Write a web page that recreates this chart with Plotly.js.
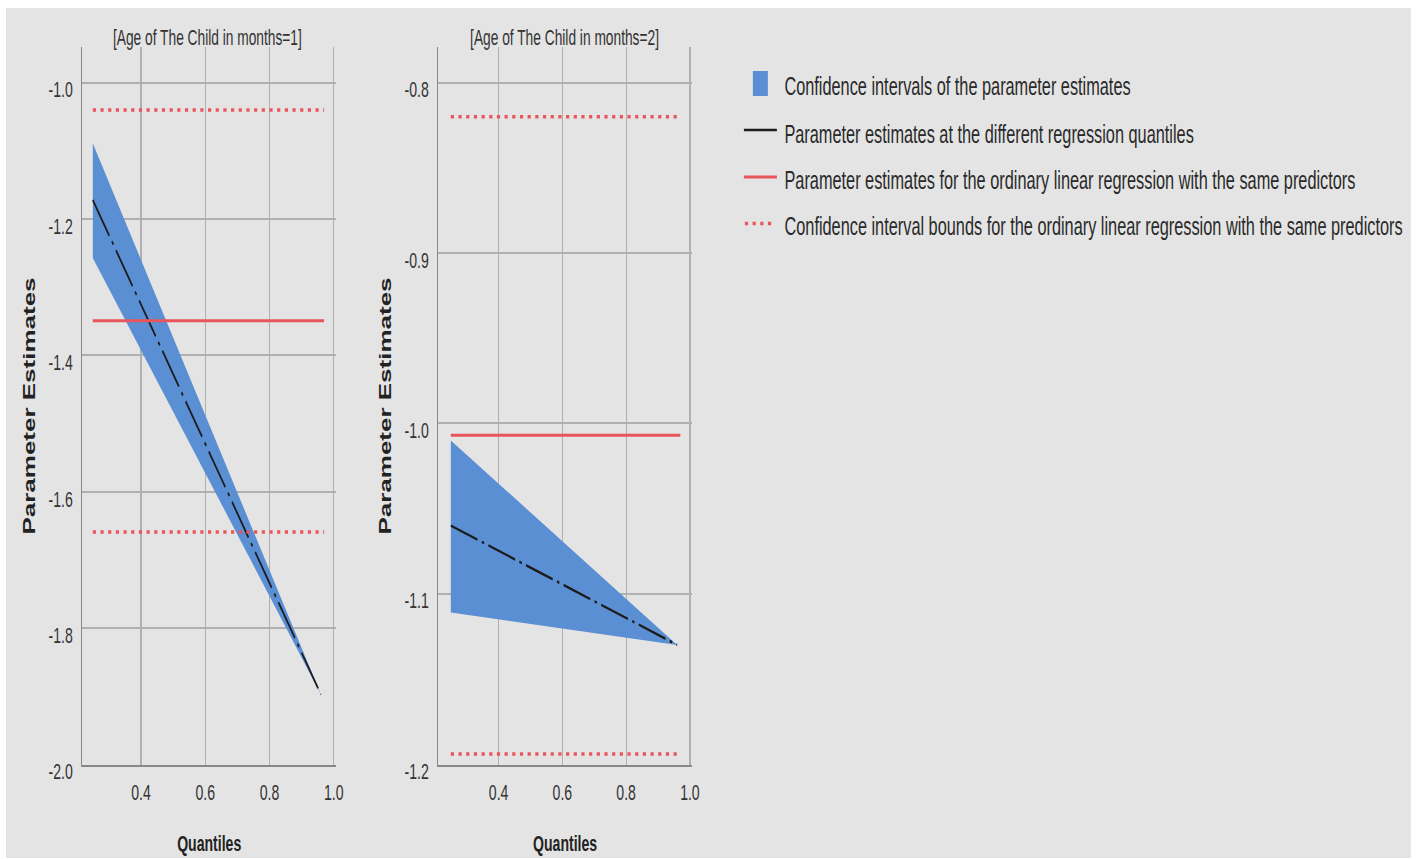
<!DOCTYPE html>
<html><head><meta charset="utf-8">
<script src="https://cdn.plot.ly/plotly-3.0.1.min.js"></script>
<style>
html,body{margin:0;padding:0;background:#fff;overflow:hidden;width:1417px;height:859px;}
#wrap{position:absolute;left:6px;top:8px;width:1405px;height:850px;overflow:hidden;}
#chart{width:2195px;height:850px;transform:scaleX(0.64);transform-origin:0 0;}
</style></head><body><div id="wrap"><div id="chart"></div></div>
<script>
// ---- data ----
const panelTitles = ['[Age of The Child in months=1]', '[Age of The Child in months=2]'];
const quantiles = [0.25, 0.96];
const estM1 = [-1.172, -1.897];
const upperM1 = [-1.089, -1.897];
const lowerM1 = [-1.257, -1.897];
const olsM1 = [-1.349, -1.349];
const olsUpperM1 = [-1.040, -1.040];
const olsLowerM1 = [-1.659, -1.659];
const estM2 = [-1.060, -1.130];
const upperM2 = [-1.010, -1.130];
const lowerM2 = [-1.111, -1.130];
const olsM2 = [-1.007, -1.007];
const olsUpperM2 = [-0.820, -0.820];
const olsLowerM2 = [-1.194, -1.194];
const olsSpan = [0.25, 0.97];
const xTickVals = [0.4, 0.6, 0.8, 1.0];
const xTickText = ['0.4', '0.6', '0.8', '1.0'];
const yTickValsM1 = [-2.0, -1.8, -1.6, -1.4, -1.2, -1.0];
const yTickTextM1 = ['-2.0', '-1.8', '-1.6', '-1.4', '-1.2', '-1.0'];
const yTickValsM2 = [-1.2, -1.1, -1.0, -0.9, -0.8];
const yTickTextM2 = ['-1.2', '-1.1', '-1.0', '-0.9', '-0.8'];
const xTitle = 'Quantiles';
const yTitle = 'Parameter Estimates';
const legendLabels = [
  'Confidence intervals of the parameter estimates',
  'Parameter estimates at the different regression quantiles',
  'Parameter estimates for the ordinary linear regression with the same predictors',
  'Confidence interval bounds for the ordinary linear regression with the same predictors'
];

// ---- styles ----
const F = '"Liberation Sans", Arial, sans-serif';
const BLUE = '#5b8fd4', RED = '#e8565b', BLACK = '#1c1c1c';
const DASHDOT = '44px,7px,4px,7px';
const DOT = '5px,7px';

function panelTraces(xa, ya, upper, lower, est, ols, olsU, olsL) {
  const bandX = quantiles.concat(quantiles.slice().reverse());
  const bandY = upper.concat(lower.slice().reverse());
  return [
    {x: bandX, y: bandY, xaxis: xa, yaxis: ya, type: 'scatter', mode: 'lines', fill: 'toself',
     fillcolor: BLUE, line: {width: 0, color: BLUE}, hoverinfo: 'skip', name: legendLabels[0]},
    {x: quantiles, y: est, xaxis: xa, yaxis: ya, type: 'scatter', mode: 'lines',
     line: {color: BLACK, width: 2.5, dash: DASHDOT}, name: legendLabels[1]},
    {x: olsSpan, y: ols, xaxis: xa, yaxis: ya, type: 'scatter', mode: 'lines',
     line: {color: RED, width: 3}, name: legendLabels[2]},
    {x: olsSpan, y: olsU, xaxis: xa, yaxis: ya, type: 'scatter', mode: 'lines',
     line: {color: RED, width: 3.5, dash: DOT}, name: legendLabels[3]},
    {x: olsSpan, y: olsL, xaxis: xa, yaxis: ya, type: 'scatter', mode: 'lines',
     line: {color: RED, width: 3.5, dash: DOT}, name: legendLabels[3]}
  ];
}

const traces = [].concat(
  panelTraces('x', 'y', upperM1, lowerM1, estM1, olsM1, olsUpperM1, olsLowerM1),
  panelTraces('x2', 'y2', upperM2, lowerM2, estM2, olsM2, olsUpperM2, olsLowerM2)
);

const axisCommon = {
  showline: true, linecolor: '#888888', linewidth: 2,
  showgrid: true, gridcolor: '#b0b0b0', gridwidth: 2,
  zeroline: false, ticks: '', fixedrange: true,
  tickfont: {family: F, size: 22, color: '#333'}
};
const yDomain = [0.10941, 0.95412];
function xAxis(domain, range, anchor) {
  return Object.assign({}, axisCommon, {
    domain: domain, range: range, anchor: anchor,
    tickmode: 'array', tickvals: xTickVals, ticktext: xTickText,
    ticklabelstandoff: 7,
    title: {text: xTitle, font: {family: F, size: 22, weight: 700, color: '#222'}, standoff: 31}
  });
}
function yAxis(range, vals, text, anchor) {
  return Object.assign({}, axisCommon, {
    domain: yDomain, range: range, anchor: anchor,
    tickmode: 'array', tickvals: vals, ticktext: text,
    ticklabelstandoff: 8, ticklabelshift: 7,
    title: {text: yTitle, font: {family: F, size: 26, weight: 700, color: '#222'}, standoff: 13}
  });
}

// legend drawn with shapes + annotations
const px = v => (v - 6) / 1405;
const py = v => 1 - (v - 8) / 850;
const legendRowsY = [86, 134, 180, 226];
const shapes = [
  {type: 'rect', xref: 'paper', yref: 'paper', x0: px(753), x1: px(768), y0: py(96), y1: py(71),
   fillcolor: BLUE, line: {width: 0}},
  {type: 'line', xref: 'paper', yref: 'paper', x0: px(744), x1: px(777), y0: py(130), y1: py(130),
   line: {color: BLACK, width: 2.5}},
  {type: 'line', xref: 'paper', yref: 'paper', x0: px(744), x1: px(777), y0: py(177), y1: py(177),
   line: {color: RED, width: 3}},
  {type: 'line', xref: 'paper', yref: 'paper', x0: px(745), x1: px(775), y0: py(223.5), y1: py(223.5),
   line: {color: RED, width: 3.5, dash: DOT}}
];
const annotations = [];
legendLabels.forEach((t, i) => annotations.push({
  xref: 'paper', yref: 'paper', x: px(783), y: py(legendRowsY[i]), xanchor: 'left', yanchor: 'middle',
  text: t, showarrow: false, font: {family: F, size: 25.5, color: '#2a2a2a'}
}));
annotations.push({xref: 'paper', yref: 'paper', x: px(207.5), y: py(38), xanchor: 'center', yanchor: 'middle',
  text: panelTitles[0], showarrow: false, font: {family: F, size: 21.5, color: '#333'}});
annotations.push({xref: 'paper', yref: 'paper', x: px(564.5), y: py(38), xanchor: 'center', yanchor: 'middle',
  text: panelTitles[1], showarrow: false, font: {family: F, size: 21.5, color: '#333'}});

const layout = {
  width: 2195, height: 850,
  margin: {l: 0, r: 0, t: 0, b: 0, pad: 0},
  paper_bgcolor: '#e4e4e4', plot_bgcolor: 'rgba(0,0,0,0)',
  showlegend: false,
  font: {family: F},
  xaxis: xAxis([0.05409, 0.23523], [0.2164, 1.0084], 'y'),
  yaxis: yAxis([-2.0005, -0.9477], yTickValsM1, yTickTextM1, 'x'),
  xaxis2: xAxis([0.30747, 0.48854], [0.2096, 1.0075], 'y2'),
  yaxis2: yAxis([-1.2005, -0.7791], yTickValsM2, yTickTextM2, 'x2'),
  shapes: shapes,
  annotations: annotations
};

Plotly.newPlot('chart', traces, layout, {staticPlot: true, displayModeBar: false});
</script></body></html>
